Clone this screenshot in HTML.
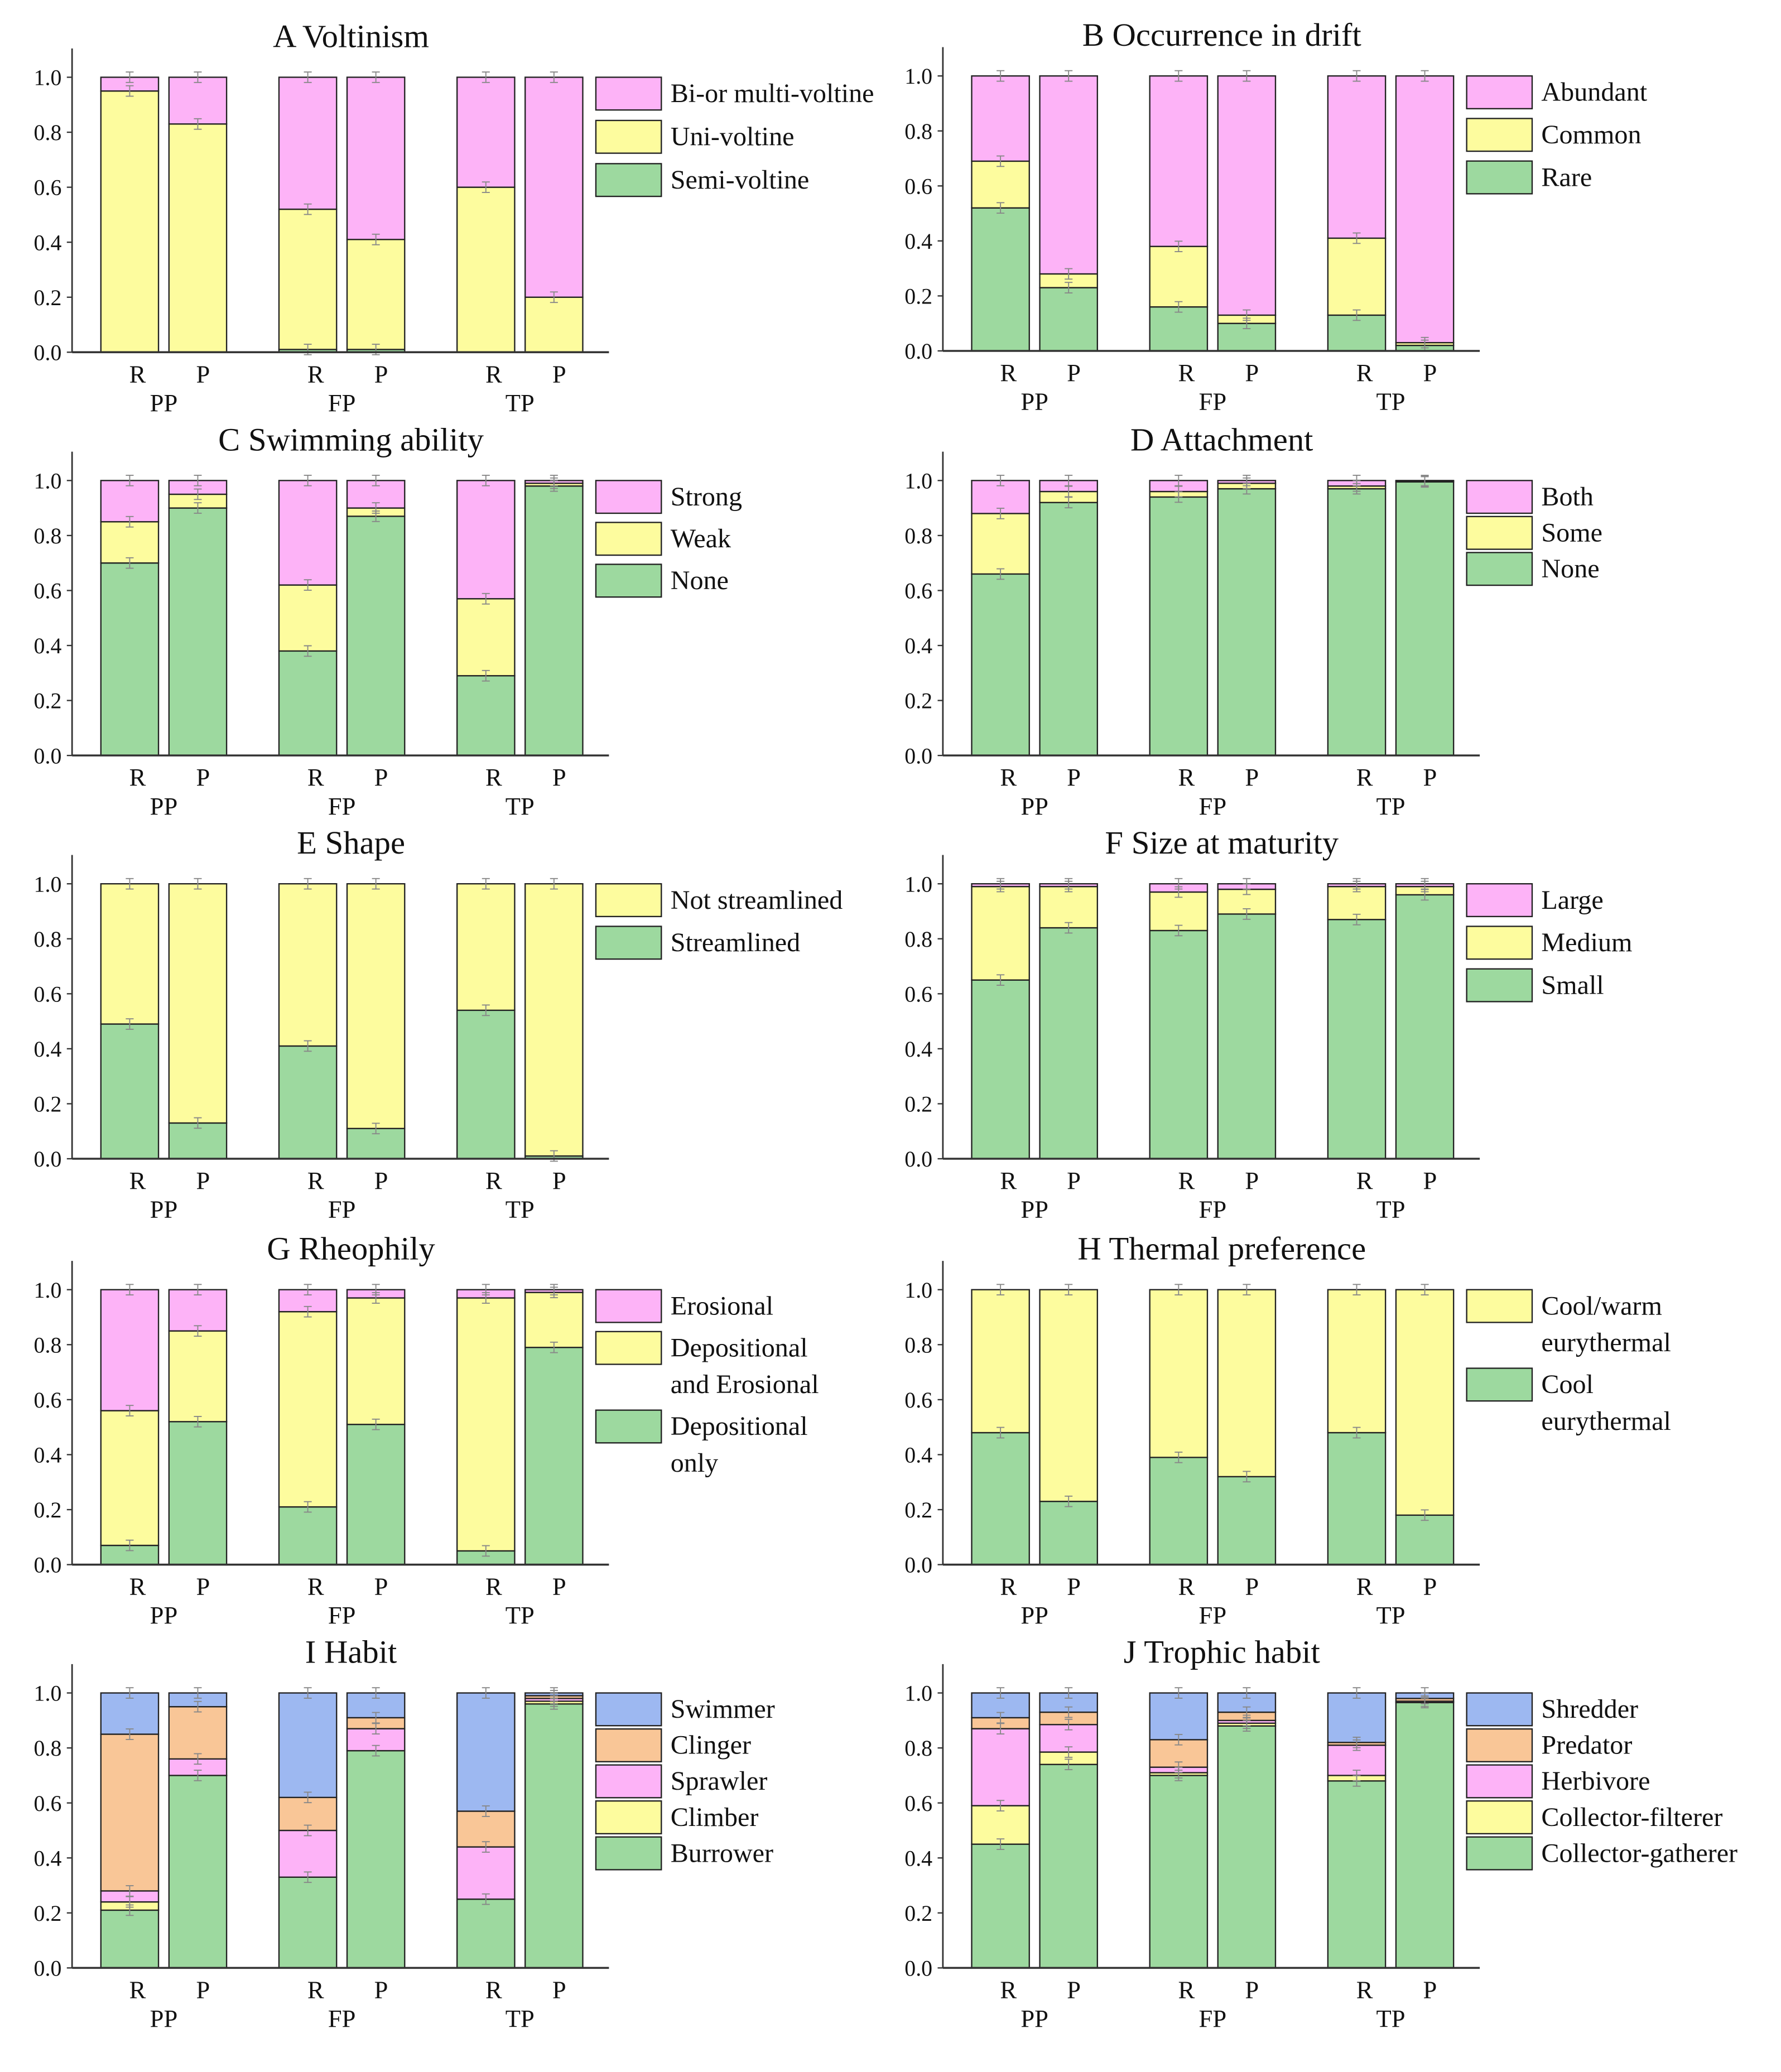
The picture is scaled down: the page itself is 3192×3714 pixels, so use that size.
<!DOCTYPE html>
<html><head><meta charset="utf-8"><style>
html,body{margin:0;padding:0;background:#fff}
svg{display:block}
text{font-family:"Liberation Serif","Times New Roman",serif;fill:#111}
</style></head><body>
<svg id="fig" width="3192" height="3714" viewBox="0 0 1360 1582.5" xmlns="http://www.w3.org/2000/svg" font-family="Liberation Serif, serif"></svg>
<script>
const categories = ["R","P","R","P","R","P"];
const groups = ["PP","FP","TP"];
const yTicks = ["0.0","0.2","0.4","0.6","0.8","1.0"];
const COL = {g:"#9dd99f",y:"#fdfc9e",p:"#fdb3f7",o:"#f9c697",b:"#9db8f1"};

// Panel series values (bottom to top segments, per bar)
const aSemi=[0,0,0.01,0.01,0,0], aUni=[0.95,0.83,0.51,0.40,0.60,0.20], aBi=[0.05,0.17,0.48,0.59,0.40,0.80];
const bRare=[0.52,0.23,0.16,0.10,0.13,0.02], bCommon=[0.17,0.05,0.22,0.03,0.28,0.01], bAbund=[0.31,0.72,0.62,0.87,0.59,0.97];
const cNone=[0.70,0.90,0.38,0.87,0.29,0.98], cWeak=[0.15,0.05,0.24,0.03,0.28,0.01], cStrong=[0.15,0.05,0.38,0.10,0.43,0.01];
const dNone=[0.66,0.92,0.94,0.97,0.97,0.995], dSome=[0.22,0.04,0.02,0.02,0.01,0.003], dBoth=[0.12,0.04,0.04,0.01,0.02,0.002];
const eStream=[0.49,0.13,0.41,0.11,0.54,0.01], eNot=[0.51,0.87,0.59,0.89,0.46,0.99];
const fSmall=[0.65,0.84,0.83,0.89,0.87,0.96], fMed=[0.34,0.15,0.14,0.09,0.12,0.03], fLarge=[0.01,0.01,0.03,0.02,0.01,0.01];
const gDep=[0.07,0.52,0.21,0.51,0.05,0.79], gDepEro=[0.49,0.33,0.71,0.46,0.92,0.20], gEro=[0.44,0.15,0.08,0.03,0.03,0.01];
const hCool=[0.48,0.23,0.39,0.32,0.48,0.18], hWarm=[0.52,0.77,0.61,0.68,0.52,0.82];
const iBurrow=[0.21,0.70,0.33,0.79,0.25,0.96], iClimb=[0.03,0.00,0.00,0.00,0.00,0.01], iSprawl=[0.04,0.06,0.17,0.08,0.19,0.01], iCling=[0.57,0.19,0.12,0.04,0.13,0.01], iSwim=[0.15,0.05,0.38,0.09,0.43,0.01];
const jGath=[0.45,0.74,0.70,0.88,0.68,0.965], jFilt=[0.14,0.045,0.01,0.01,0.02,0.0], jHerb=[0.28,0.10,0.02,0.01,0.11,0.005], jPred=[0.04,0.045,0.10,0.03,0.01,0.01], jShred=[0.09,0.07,0.17,0.07,0.18,0.02];

const panels = [
 {id:"a",title:"A Voltinism",col:0,top:59,series:[aSemi,aUni,aBi],colors:["g","y","p"],
  legend:[{c:"p",l:["Bi-or multi-voltine"]},{c:"y",l:["Uni-voltine"]},{c:"g",l:["Semi-voltine"]}],step:33},
 {id:"b",title:"B Occurrence in drift",col:1,top:58,series:[bRare,bCommon,bAbund],colors:["g","y","p"],
  legend:[{c:"p",l:["Abundant"]},{c:"y",l:["Common"]},{c:"g",l:["Rare"]}],step:32.5},
 {id:"c",title:"C Swimming ability",col:0,top:367,series:[cNone,cWeak,cStrong],colors:["g","y","p"],
  legend:[{c:"p",l:["Strong"]},{c:"y",l:["Weak"]},{c:"g",l:["None"]}],step:32},
 {id:"d",title:"D Attachment",col:1,top:367,series:[dNone,dSome,dBoth],colors:["g","y","p"],
  legend:[{c:"p",l:["Both"]},{c:"y",l:["Some"]},{c:"g",l:["None"]}],step:27.5},
 {id:"e",title:"E Shape",col:0,top:675,series:[eStream,eNot],colors:["g","y"],
  legend:[{c:"y",l:["Not streamlined"]},{c:"g",l:["Streamlined"]}],step:32.5},
 {id:"f",title:"F Size at maturity",col:1,top:675,series:[fSmall,fMed,fLarge],colors:["g","y","p"],
  legend:[{c:"p",l:["Large"]},{c:"y",l:["Medium"]},{c:"g",l:["Small"]}],step:32.5},
 {id:"g",title:"G Rheophily",col:0,top:985,series:[gDep,gDepEro,gEro],colors:["g","y","p"],
  legend:[{c:"p",l:["Erosional"]},{c:"y",l:["Depositional","and Erosional"]},{c:"g",l:["Depositional","only"]}],step:32},
 {id:"h",title:"H Thermal preference",col:1,top:985,series:[hCool,hWarm],colors:["g","y"],
  legend:[{c:"y",l:["Cool/warm","eurythermal"]},{c:"g",l:["Cool","eurythermal"]}],step:32},
 {id:"i",title:"I Habit",col:0,top:1293,series:[iBurrow,iClimb,iSprawl,iCling,iSwim],colors:["g","y","p","o","b"],
  legend:[{c:"b",l:["Swimmer"]},{c:"o",l:["Clinger"]},{c:"p",l:["Sprawler"]},{c:"y",l:["Climber"]},{c:"g",l:["Burrower"]}],step:27.5},
 {id:"j",title:"J Trophic habit",col:1,top:1293,series:[jGath,jFilt,jHerb,jPred,jShred],colors:["g","y","p","o","b"],
  legend:[{c:"b",l:["Shredder"]},{c:"o",l:["Predator"]},{c:"p",l:["Herbivore"]},{c:"y",l:["Collector-filterer"]},{c:"g",l:["Collector-gatherer"]}],step:27.5}
];

const NS="http://www.w3.org/2000/svg";
const svg=document.getElementById("fig");
function mk(tag,attrs,parent){const e=document.createElementNS(NS,tag);for(const k in attrs)e.setAttribute(k,attrs[k]);(parent||svg).appendChild(e);return e;}

const barOff=[22,74,158,210,294,346];
const BW=44, H=210;

panels.forEach(p=>{
  const ax = p.col===0?55:720;
  const g=mk("g",{});
  
  
  const y0=p.top+H;
  const yScale=v=>y0-v*H;
  const xBar=i=>ax+barOff[i];
  const t=mk("text",{x:ax+213,y:p.top-23,"text-anchor":"middle","font-size":25},g);
  t.textContent=p.title;
  
  
  for(let i=0;i<categories.length;i++){
    let cum=0;
    p.series.forEach((s,k)=>{
      const v=s[i];
      if(v>0){
        const r=mk("rect",{x:xBar(i),y:yScale(cum+v),width:BW,height:v*H,fill:COL[p.colors[k]],stroke:"#222","stroke-width":1},g);
        
        
      }
      cum+=v;
    });
    let c2=0;
    p.series.forEach((s,k)=>{
      c2+=s[i];
      if(s[i]<=0) return;
      const yy=yScale(c2), cx=xBar(i)+BW/2, e=4;
      const eb=mk("path",{d:`M${cx},${yy-e}V${yy+e}M${cx-3},${yy-e}H${cx+3}M${cx-3},${yy+e}H${cx+3}`,stroke:"#888","stroke-width":0.8,fill:"none"},g);
      
      
    });
  }
  const ya=mk("line",{x1:ax,y1:p.top-22,x2:ax,y2:y0,stroke:"#333","stroke-width":1.2},g);
  
  
  const xa=mk("line",{x1:ax,y1:y0,x2:ax+410,y2:y0,stroke:"#333","stroke-width":1.5},g);
  
  
  yTicks.forEach((tl,k)=>{
    const yy=yScale(parseFloat(tl));
    const tk=mk("line",{x1:ax-4,y1:yy,x2:ax,y2:yy,stroke:"#333","stroke-width":1},g);
    
    
    const tt=mk("text",{x:ax-8,y:yy+6,"text-anchor":"end","font-size":17},g);
    tt.textContent=tl;
    
    
  });
  categories.forEach((c,i)=>{
    const tt=mk("text",{x:xBar(i)+BW/2+(i%2?4:6),y:y0+23,"text-anchor":"middle","font-size":19},g);
    tt.textContent=c;
    
    
  });
  groups.forEach((gr,j)=>{
    const tt=mk("text",{x:ax+barOff[2*j]+BW+4,y:y0+45,"text-anchor":"middle","font-size":19},g);
    tt.textContent=gr;
    
    
  });
  const lx = p.col===0?455:1120;
  let ly=p.top;
  p.legend.forEach(it=>{
    const r=mk("rect",{x:lx,y:ly,width:50,height:25,fill:COL[it.c],stroke:"#222","stroke-width":1},g);
    
    
    it.l.forEach((ln,q)=>{
      const tt=mk("text",{x:lx+57,y:ly+19+q*28,"font-size":20.5},g);
      tt.textContent=ln;
      
      
    });
    ly += p.step + (it.l.length-1)*28;
  });
});
</script>
</body></html>
